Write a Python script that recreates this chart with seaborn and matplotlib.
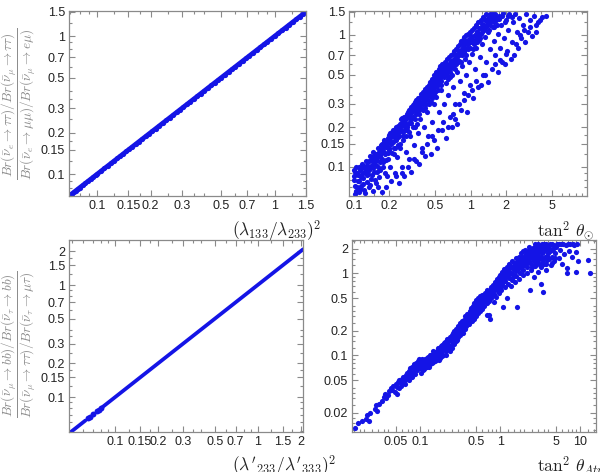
import matplotlib
matplotlib.use('Agg')
import matplotlib.pyplot as plt
import seaborn as sns
from matplotlib.ticker import FixedLocator, FixedFormatter, LogLocator, NullFormatter

# ---------------- data ----------------
# top-left: ratio of branching ratios vs (lambda133/lambda233)^2 (lies on y = x)
tl_x = [0.070, 0.072, 0.074, 0.076, 0.078, 0.080, 0.083, 0.086, 0.089, 0.092, 0.095, 0.098,
        0.100, 0.105, 0.110, 0.115, 0.120, 0.125, 0.130, 0.135, 0.140, 0.146, 0.152, 0.158,
        0.165, 0.172, 0.180, 0.188, 0.196, 0.205, 0.214, 0.224, 0.234, 0.245, 0.256, 0.268,
        0.280, 0.293, 0.306, 0.320, 0.335, 0.350, 0.366, 0.383, 0.400, 0.420, 0.440, 0.460,
        0.480, 0.500, 0.525, 0.550, 0.575, 0.600, 0.630, 0.660, 0.690, 0.720, 0.755, 0.790,
        0.830, 0.870, 0.910, 0.950, 1.000, 1.050, 1.100, 1.150, 1.200, 1.260, 1.320, 1.380,
        1.440, 1.500]
tl_y = list(tl_x)

# bottom-left: three pieces of the y = x line (dense start, a few isolated dots, dense rest)
bl_low_x = [0.048, 0.050, 0.052, 0.054, 0.056, 0.058, 0.060, 0.062]
bl_dots_x = [0.0650, 0.0668, 0.0705, 0.0748, 0.0768, 0.0798]
bl_main_x = [0.081, 0.084, 0.087, 0.090, 0.094, 0.098, 0.102, 0.107, 0.112, 0.117, 0.122,
             0.128, 0.134, 0.140, 0.147, 0.154, 0.161, 0.169, 0.177, 0.185, 0.194, 0.203,
             0.213, 0.223, 0.234, 0.245, 0.257, 0.269, 0.282, 0.295, 0.309, 0.324, 0.340,
             0.356, 0.373, 0.391, 0.410, 0.430, 0.450, 0.472, 0.495, 0.518, 0.543, 0.569,
             0.596, 0.625, 0.655, 0.686, 0.719, 0.753, 0.789, 0.827, 0.867, 0.908, 0.952,
             0.997, 1.045, 1.095, 1.147, 1.202, 1.260, 1.320, 1.383, 1.450, 1.519, 1.592,
             1.668, 1.748, 1.832, 1.920, 2.000, 2.080]
bl_low_y = list(bl_low_x)
bl_dots_y = list(bl_dots_x)
bl_main_y = list(bl_main_x)

# top-right: vs tan^2 theta_sol
tr_x = [0.10, 0.10, 0.102, 0.104, 0.106, 0.108, 0.11, 0.112, 0.115, 0.117, 0.12, 0.122, 0.125, 0.127, 0.13,
        0.132, 0.134, 0.137, 0.14, 0.142, 0.145, 0.147, 0.15, 0.153, 0.156, 0.16, 0.162, 0.165, 0.168, 0.172, 0.175, 0.178,
        0.18, 0.183, 0.186, 0.19, 0.193, 0.196, 0.2, 0.203, 0.207, 0.21, 0.214, 0.218, 0.222, 0.226, 0.23, 0.235, 0.24, 0.245, 0.248,
        0.25, 0.255, 0.26, 0.265, 0.27, 0.275, 0.28, 0.285, 0.29, 0.295, 0.3, 0.305, 0.31, 0.315, 0.32, 0.325, 0.33, 0.335, 0.34, 0.345,
        0.35, 0.355, 0.36, 0.365, 0.37, 0.375, 0.38, 0.39, 0.395, 0.4, 0.41, 0.415, 0.42, 0.43, 0.435, 0.44, 0.45, 0.455, 0.46, 0.47, 0.48, 0.485, 0.49, 0.495,
        0.5, 0.51, 0.52, 0.53, 0.54, 0.55, 0.56, 0.57, 0.58, 0.59, 0.6, 0.61, 0.62, 0.63, 0.64, 0.65, 0.66, 0.67, 0.68, 0.69,
        0.7, 0.71, 0.72, 0.73, 0.75, 0.76, 0.77, 0.78, 0.8, 0.81, 0.82, 0.84, 0.85, 0.86, 0.88, 0.89, 0.9, 0.92, 0.93, 0.95, 0.96, 0.97, 0.99,
        1.0, 1.02, 1.04, 1.06, 1.08, 1.1, 1.12, 1.14, 1.16, 1.18, 1.2, 1.22, 1.25, 1.27, 1.3, 1.32, 1.35, 1.37, 1.4, 1.42, 1.45, 1.47, 1.5,
        1.52, 1.55, 1.58, 1.6, 1.63, 1.66, 1.7, 1.73, 1.76, 1.8, 1.83, 1.87, 1.9, 1.94, 1.98, 2.0, 2.05, 2.1, 2.15, 2.2,
        2.25, 2.3, 2.35, 2.4, 2.5, 2.55, 2.6, 2.7, 2.8, 2.9, 3.0, 3.1, 3.2, 3.35, 3.5, 3.65, 3.8, 4.1, 4.4,
        0.105, 0.113, 0.118, 0.124, 0.128, 0.135, 0.138, 0.143, 0.148, 0.155, 0.158, 0.163, 0.17, 0.176, 0.182, 0.188, 0.195, 0.2,
        0.205, 0.212, 0.22, 0.228, 0.233, 0.238, 0.243, 0.25, 0.258, 0.262, 0.268, 0.278, 0.283, 0.288, 0.298, 0.302, 0.308, 0.318,
        0.322, 0.328, 0.338, 0.348, 0.358, 0.362, 0.372, 0.385, 0.392, 0.405, 0.412, 0.425, 0.438, 0.445, 0.46, 0.475, 0.49, 0.505,
        0.515, 0.525, 0.545, 0.555, 0.575, 0.595, 0.615, 0.635, 0.655, 0.675, 0.695, 0.715, 0.735, 0.755, 0.775, 0.795, 0.83, 0.87,
        0.91, 0.94, 0.98, 1.01, 1.05, 1.09, 1.13, 1.17, 1.21, 1.26, 1.31, 1.36, 1.41, 1.46, 1.53, 1.57, 1.62, 1.68, 1.75, 1.85, 1.95,
        2.08, 2.28, 0.102, 0.11]
tr_y = [0.095, 0.085, 0.072, 0.065, 0.09, 0.078, 0.1, 0.068, 0.083, 0.105, 0.074, 0.092, 0.063, 0.11, 0.086,
        0.098, 0.07, 0.12, 0.081, 0.104, 0.066, 0.13, 0.092, 0.113, 0.075, 0.138, 0.1, 0.083, 0.12, 0.147, 0.064, 0.108,
        0.13, 0.16, 0.09, 0.07, 0.143, 0.115, 0.175, 0.1, 0.155, 0.078, 0.128, 0.19, 0.14, 0.09, 0.2, 0.118, 0.168, 0.075, 0.21,
        0.15, 0.23, 0.1, 0.185, 0.085, 0.24, 0.13, 0.2, 0.26, 0.115, 0.22, 0.17, 0.092, 0.28, 0.24, 0.145, 0.3, 0.2, 0.11, 0.26,
        0.32, 0.18, 0.105, 0.28, 0.23, 0.34, 0.14, 0.3, 0.2, 0.37, 0.12, 0.33, 0.26, 0.4, 0.17, 0.3, 0.42, 0.125, 0.36, 0.22, 0.45, 0.3, 0.16, 0.4,
        0.48, 0.34, 0.14, 0.44, 0.26, 0.52, 0.38, 0.19, 0.5, 0.3, 0.57, 0.43, 0.165, 0.54, 0.35, 0.6, 0.24, 0.48, 0.63, 0.2,
        0.56, 0.4, 0.66, 0.3, 0.7, 0.52, 0.21, 0.62, 0.76, 0.45, 0.27, 0.7, 0.58, 0.8, 0.36, 0.66, 0.85, 0.5, 0.26, 0.78, 0.9, 0.62, 0.42,
        0.95, 0.72, 0.33, 0.86, 1.0, 0.55, 0.8, 1.06, 0.4, 0.92, 0.68, 1.12, 0.85, 0.5, 1.2, 0.97, 0.62, 1.28, 0.44, 1.05, 1.35, 0.78, 1.42,
        0.55, 1.15, 0.9, 1.45, 0.7, 1.3, 0.52, 1.02, 1.4, 0.8, 1.2, 0.62, 1.47, 0.95, 0.6, 1.3, 0.75, 1.1, 1.44, 0.66,
        0.88, 1.25, 0.7, 1.45, 1.05, 0.8, 1.35, 0.95, 1.2, 0.88, 1.45, 1.05, 1.3, 0.98, 1.4, 1.05, 1.25, 1.38, 1.4,
        0.1, 0.095, 0.088, 0.1, 0.095, 0.11, 0.1, 0.118, 0.108, 0.125, 0.112, 0.13, 0.135, 0.15, 0.145, 0.155, 0.165, 0.14,
        0.18, 0.17, 0.175, 0.16, 0.19, 0.205, 0.185, 0.2, 0.215, 0.17, 0.22, 0.21, 0.25, 0.19, 0.24, 0.27, 0.23, 0.2,
        0.27, 0.29, 0.25, 0.3, 0.27, 0.33, 0.3, 0.35, 0.27, 0.32, 0.38, 0.34, 0.36, 0.39, 0.31, 0.41, 0.35, 0.45,
        0.41, 0.5, 0.47, 0.42, 0.55, 0.48, 0.52, 0.46, 0.55, 0.58, 0.5, 0.62, 0.55, 0.6, 0.72, 0.64, 0.62, 0.74,
        0.7, 0.86, 0.8, 0.88, 0.78, 0.92, 0.88, 1.0, 0.95, 1.05, 1.1, 1.15, 1.22, 1.18, 1.3, 1.25, 1.38, 1.2, 1.32, 1.4, 1.25,
        1.4, 1.38, 0.062, 0.064]
tr_x_more = [0.101, 0.103, 0.107, 0.109, 0.111, 0.114, 0.116, 0.119, 0.121, 0.123, 0.126, 0.129, 0.131, 0.133, 0.136,
             0.139, 0.141, 0.144, 0.146, 0.149, 0.151, 0.154, 0.157, 0.159, 0.161, 0.164, 0.167, 0.169, 0.171, 0.174,
             0.177, 0.179, 0.181, 0.184, 0.187, 0.189, 0.192, 0.194, 0.197, 0.199,
             0.202, 0.206, 0.209, 0.211, 0.216, 0.219, 0.221, 0.224, 0.227, 0.231, 0.236, 0.239, 0.242, 0.246, 0.249,
             0.252, 0.256, 0.261, 0.264, 0.267, 0.271, 0.274, 0.279, 0.282, 0.287, 0.291, 0.294, 0.297, 0.301, 0.306,
             0.311, 0.314, 0.319, 0.324, 0.327, 0.331, 0.336, 0.341, 0.344, 0.347,
             0.352, 0.357, 0.363, 0.368, 0.373, 0.378, 0.383, 0.388, 0.394, 0.398, 0.403, 0.408, 0.414, 0.418, 0.423,
             0.428, 0.433, 0.441, 0.448, 0.452, 0.458, 0.464, 0.468, 0.473, 0.478, 0.483, 0.488, 0.493, 0.498, 0.508,
             0.512, 0.518, 0.523, 0.532, 0.538, 0.543, 0.552, 0.558, 0.566, 0.572, 0.583, 0.588,
             0.603, 0.608, 0.618, 0.625, 0.632, 0.645, 0.652, 0.662, 0.672, 0.685, 0.693, 0.705, 0.712, 0.725, 0.742,
             0.752, 0.765, 0.783, 0.79, 0.805, 0.815, 0.825, 0.838, 0.855, 0.865, 0.878, 0.895, 0.905, 0.918, 0.935,
             0.945, 0.965, 0.985,
             1.015, 1.03, 1.045, 1.065, 1.085, 1.105, 1.125, 1.145, 1.165, 1.19, 1.215, 1.235, 1.255, 1.285, 1.305,
             1.33, 1.355, 1.38, 1.405, 1.43, 1.455, 1.48, 1.51, 1.545, 1.575, 1.6,
             0.23, 0.26, 0.29, 0.33, 0.38, 0.42, 0.47, 0.53, 0.58, 0.64, 0.7, 0.74, 0.8, 0.87, 0.95, 1.03, 1.12, 1.22,
             1.33, 1.6, 1.78, 2.02, 2.45, 2.65, 2.85, 3.25, 3.6, 3.9]
tr_y_more = [0.08, 0.092, 0.07, 0.086, 0.078, 0.097, 0.072, 0.099, 0.082, 0.067, 0.09, 0.103, 0.077, 0.088, 0.095,
             0.073, 0.112, 0.087, 0.098, 0.121, 0.08, 0.104, 0.118, 0.092, 0.07, 0.122, 0.108, 0.095, 0.128, 0.115,
             0.138, 0.1, 0.155, 0.125, 0.112, 0.142, 0.085, 0.152, 0.128, 0.16,
             0.135, 0.165, 0.148, 0.185, 0.155, 0.125, 0.188, 0.165, 0.138, 0.178, 0.195, 0.145, 0.2, 0.17, 0.14,
             0.21, 0.19, 0.235, 0.16, 0.205, 0.24, 0.19, 0.23, 0.172, 0.245, 0.21, 0.27, 0.185, 0.25, 0.285,
             0.215, 0.26, 0.295, 0.235, 0.27, 0.31, 0.23, 0.285, 0.32, 0.21,
             0.3, 0.335, 0.25, 0.31, 0.355, 0.28, 0.33, 0.37, 0.31, 0.35, 0.28, 0.39, 0.35, 0.3, 0.4,
             0.37, 0.32, 0.42, 0.35, 0.44, 0.39, 0.33, 0.46, 0.38, 0.43, 0.5, 0.42, 0.37, 0.46, 0.52,
             0.43, 0.48, 0.38, 0.55, 0.47, 0.52, 0.58, 0.45, 0.53, 0.6, 0.5, 0.58,
             0.62, 0.53, 0.6, 0.5, 0.66, 0.57, 0.68, 0.6, 0.52, 0.7, 0.62, 0.72, 0.58, 0.75, 0.66,
             0.78, 0.68, 0.82, 0.7, 0.86, 0.74, 0.9, 0.78, 0.92, 0.84, 0.96, 0.78, 1.0, 0.9, 0.8,
             1.02, 0.94, 1.05,
             0.98, 1.1, 0.9, 1.12, 0.98, 1.2, 1.05, 0.95, 1.25, 1.12, 1.3, 1.02, 1.22, 1.38, 1.12,
             1.3, 1.45, 1.2, 1.35, 1.1, 1.45, 1.28, 1.38, 1.47, 1.15, 1.3,
             0.085, 0.09, 0.1, 0.115, 0.13, 0.15, 0.17, 0.19, 0.22, 0.2, 0.25, 0.23, 0.3, 0.32, 0.35, 0.38, 0.45, 0.42,
             0.5, 0.6, 0.65, 0.72, 0.85, 1.0, 1.1, 1.15, 1.2, 1.3]

# bottom-right: vs tan^2 theta_atm
br_x = [0.0155, 0.017, 0.019, 0.021, 0.022, 0.024, 0.023, 0.027, 0.028, 0.029, 0.031, 0.033, 0.035, 0.037, 0.036,
        0.04, 0.041, 0.043, 0.045, 0.046, 0.048, 0.05, 0.052, 0.053, 0.055, 0.057, 0.06, 0.062, 0.064, 0.066, 0.068,
        0.07, 0.073, 0.075, 0.078, 0.08, 0.083, 0.085, 0.088, 0.09, 0.093, 0.096, 0.099,
        0.1, 0.104, 0.107, 0.11, 0.113, 0.116, 0.12, 0.123, 0.127, 0.13, 0.134, 0.138, 0.142, 0.146, 0.15, 0.155,
        0.16, 0.165, 0.17, 0.175, 0.18, 0.185, 0.19, 0.195, 0.2,
        0.205, 0.21, 0.215, 0.22, 0.225, 0.23, 0.235, 0.24, 0.245, 0.25, 0.255, 0.26, 0.265, 0.27, 0.275, 0.28, 0.285,
        0.29, 0.295, 0.3, 0.31, 0.315, 0.32, 0.33, 0.335, 0.34, 0.345,
        0.35, 0.36, 0.37, 0.375, 0.38, 0.39, 0.4, 0.41, 0.42, 0.43, 0.44, 0.45, 0.46, 0.47, 0.48, 0.49, 0.5, 0.51, 0.52,
        0.53, 0.54, 0.55, 0.56, 0.57, 0.58, 0.59, 0.6, 0.68, 0.75,
        0.61, 0.63, 0.65, 0.66, 0.68, 0.7, 0.71, 0.72, 0.73, 0.75, 0.76, 0.78, 0.8, 0.82, 0.83, 0.85, 0.87, 0.88, 0.9,
        0.92, 0.94, 0.95, 0.97, 0.99,
        1.0, 1.02, 1.04, 1.06, 1.08, 1.1, 1.12, 1.14, 1.16, 1.18, 1.2, 1.22, 1.25, 1.28, 1.3, 1.33, 1.36, 1.4, 1.43,
        1.46, 1.5, 1.53, 1.56, 1.6, 1.62, 1.64, 1.68, 1.72, 1.76, 1.8, 1.84, 1.88, 1.92, 1.96,
        2.0, 2.05, 2.1, 2.15, 2.2, 2.25, 2.3, 2.35, 2.37, 2.4, 2.45, 2.5, 2.55, 2.6, 2.65, 2.7, 2.75, 2.8, 2.85, 2.9,
        2.95, 3.0, 3.05, 3.1, 3.15, 3.2, 3.25, 3.3, 3.35, 3.4, 3.45, 3.5, 3.55, 3.6, 3.65, 3.7, 3.8, 3.9, 4.0,
        4.1, 4.2, 4.3, 4.4, 4.5, 4.6, 4.75, 4.9, 5.0, 5.2, 5.4, 5.6, 5.8, 6.0, 6.3, 6.6, 6.8, 6.9, 7.2, 7.5, 8.0, 8.5,
        9.0, 9.0, 9.3, 12.7, 13.3,
        2.7, 3.0, 3.3, 3.8, 4.4, 5.5, 6.2, 7.0, 8.2, 9.2]
br_y = [0.013, 0.015, 0.016, 0.017, 0.019, 0.02, 0.016, 0.022, 0.025, 0.021, 0.026, 0.028, 0.031, 0.03, 0.034,
        0.033, 0.037, 0.04, 0.038, 0.043, 0.036, 0.045, 0.041, 0.048, 0.05, 0.046, 0.052, 0.055, 0.05, 0.058, 0.062,
        0.056, 0.065, 0.07, 0.062, 0.072, 0.068, 0.078, 0.08, 0.073, 0.085, 0.09, 0.082,
        0.07, 0.062, 0.085, 0.075, 0.068, 0.09, 0.08, 0.072, 0.095, 0.085, 0.078, 0.1, 0.09, 0.083, 0.105, 0.095,
        0.088, 0.115, 0.1, 0.093, 0.12, 0.108, 0.135, 0.1, 0.125,
        0.145, 0.115, 0.135, 0.16, 0.12, 0.15, 0.17, 0.13, 0.155, 0.18, 0.14, 0.165, 0.2, 0.15, 0.175, 0.21, 0.16,
        0.19, 0.22, 0.17, 0.2, 0.235, 0.18, 0.22, 0.25, 0.19, 0.23,
        0.27, 0.21, 0.25, 0.29, 0.23, 0.27, 0.31, 0.24, 0.29, 0.34, 0.26, 0.31, 0.36, 0.28, 0.33, 0.39, 0.3, 0.36, 0.42,
        0.33, 0.38, 0.45, 0.35, 0.41, 0.48, 0.37, 0.44, 0.31, 0.28,
        0.52, 0.4, 0.47, 0.56, 0.43, 0.5, 0.6, 0.31, 0.46, 0.55, 0.65, 0.5, 0.6, 0.7, 0.45, 0.56, 0.66, 0.76, 0.52,
        0.62, 0.72, 0.83, 0.58, 0.68,
        0.8, 0.92, 0.62, 0.74, 0.39, 0.86, 1.0, 0.68, 0.8, 0.94, 1.08, 0.5, 0.75, 0.88, 1.02, 1.18, 0.7, 0.84, 0.98,
        1.12, 1.28, 0.78, 0.92, 1.06, 0.39, 1.22, 1.4, 0.85, 1.0, 1.15, 1.32, 1.52, 0.95, 1.1,
        1.25, 1.45, 1.7, 1.0, 1.18, 1.38, 1.6, 1.9, 0.63, 1.1, 1.3, 1.52, 1.78, 2.05, 0.9, 1.22, 1.45, 1.7, 2.0, 2.2,
        1.05, 1.35, 1.6, 1.85, 2.15, 0.75, 1.2, 1.5, 1.75, 2.05, 0.6, 2.25, 1.3, 1.6, 1.9, 2.2, 1.1, 1.45, 1.75,
        2.05, 2.25, 1.25, 1.6, 1.9, 2.2, 1.4, 1.75, 2.1, 2.3, 1.55, 1.95, 2.25, 1.3, 1.7, 2.2, 1.15, 1.0, 1.85, 2.25, 1.6, 2.2,
        1.05, 1.8, 1.4, 1.45, 1.02,
        2.25, 2.28, 2.25, 2.3, 2.28, 2.26, 2.3, 2.25, 2.28, 2.27]
br_x_more = [0.051, 0.054, 0.058, 0.061, 0.065, 0.069, 0.072, 0.076, 0.079, 0.082, 0.086, 0.091, 0.094, 0.097,
             0.102, 0.105, 0.109, 0.112, 0.118, 0.121, 0.125, 0.129, 0.132, 0.136, 0.14, 0.144, 0.148, 0.153, 0.158,
             0.162, 0.168, 0.172, 0.178, 0.183, 0.188, 0.193, 0.198, 0.208, 0.213, 0.218, 0.228, 0.233, 0.238, 0.248,
             0.253, 0.258, 0.268, 0.273, 0.278, 0.288, 0.293, 0.298,
             0.305, 0.318, 0.325, 0.338, 0.348, 0.355, 0.365, 0.378, 0.385, 0.395, 0.405, 0.415, 0.425, 0.435, 0.448,
             0.455, 0.465, 0.475, 0.485, 0.495, 0.505, 0.515, 0.525, 0.535, 0.545, 0.565, 0.575, 0.585, 0.595, 0.62,
             0.64, 0.67, 0.69,
             0.74, 0.77, 0.79, 0.81, 0.84, 0.86, 0.89, 0.91, 0.93, 0.96, 0.98, 1.01, 1.03, 1.05, 1.07, 1.09, 1.11,
             1.13, 1.15, 1.17, 1.21, 1.24, 1.27, 1.31, 1.35, 1.38, 1.42, 1.45, 1.48, 1.52, 1.58, 1.63, 1.66, 1.7,
             1.74, 1.78, 1.82, 1.86, 1.9, 1.94, 1.98,
             2.02, 2.07, 2.12, 2.18, 2.22, 2.28, 2.33, 2.38, 2.42, 2.48, 2.52, 2.58, 2.62, 2.68, 2.72, 2.78, 2.82,
             2.88, 2.92, 2.98, 3.02, 3.08, 3.12, 3.18, 3.22, 3.28, 3.32, 3.42, 3.52, 3.62, 3.72, 3.85, 3.95, 4.05,
             4.25, 4.45, 4.65, 4.85]
br_y_more = [0.034, 0.04, 0.042, 0.047, 0.045, 0.054, 0.05, 0.058, 0.055, 0.063, 0.06, 0.066, 0.07, 0.075,
             0.078, 0.09, 0.066, 0.083, 0.074, 0.092, 0.082, 0.072, 0.1, 0.088, 0.08, 0.112, 0.095, 0.085, 0.11,
             0.1, 0.125, 0.088, 0.11, 0.13, 0.098, 0.118, 0.14, 0.128, 0.1, 0.145, 0.132, 0.158, 0.115, 0.165,
             0.125, 0.19, 0.138, 0.185, 0.15, 0.2, 0.155, 0.23,
             0.19, 0.25, 0.2, 0.265, 0.21, 0.25, 0.3, 0.25, 0.32, 0.24, 0.29, 0.35, 0.27, 0.38, 0.3,
             0.4, 0.32, 0.44, 0.36, 0.47, 0.34, 0.45, 0.38, 0.5, 0.42, 0.53, 0.38, 0.45, 0.55, 0.48,
             0.58, 0.5, 0.62,
             0.58, 0.68, 0.55, 0.72, 0.62, 0.78, 0.64, 0.85, 0.7, 0.9, 0.75, 0.95, 0.7, 0.88, 1.05, 0.78, 0.95,
             1.12, 0.88, 1.05, 1.2, 0.95, 1.1, 1.3, 1.0, 1.2, 1.42, 0.9, 1.15, 1.35, 1.55, 1.1, 1.3, 1.6,
             1.2, 1.45, 1.75, 1.25, 1.6, 1.85, 1.4,
             1.65, 1.95, 1.3, 1.55, 1.85, 2.1, 1.4, 1.7, 2.0, 1.2, 1.65, 1.95, 1.4, 1.8, 2.1, 1.3, 1.6,
             1.9, 1.4, 1.75, 2.0, 1.5, 1.25, 1.9, 1.6, 2.1, 1.35, 1.8, 1.5, 2.0, 1.3, 1.65, 2.05, 1.5,
             1.85, 1.35, 2.0, 1.55]

# tick values / labels
tl_xticks = [0.1, 0.15, 0.2, 0.3, 0.5, 0.7, 1, 1.5]
tl_xlabels = ['0.1', '0.15', '0.2', '0.3', '0.5', '0.7', '1', '1.5']
tl_yticks = [0.1, 0.15, 0.2, 0.3, 0.5, 0.7, 1, 1.5]
tl_ylabels = ['0.1', '0.15', '0.2', '0.3', '0.5', '0.7', '1', '1.5']
tr_xticks = [0.1, 0.2, 0.5, 1, 2, 5, 10]
tr_xlabels = ['0.1', '0.2', '0.5', '1', '2', '5', '10']
tr_yticks = tl_yticks
tr_ylabels = tl_ylabels
bl_xticks = [0.1, 0.15, 0.2, 0.3, 0.5, 0.7, 1, 1.5, 2]
bl_xlabels = ['0.1', '0.15', '0.2', '0.3', '0.5', '0.7', '1', '1.5', '2']
bl_yticks = bl_xticks
bl_ylabels = bl_xlabels
br_xticks = [0.05, 0.1, 0.5, 1, 5, 10]
br_xlabels = ['0.05', '0.1', '0.5', '1', '5', '10']
br_yticks = [0.02, 0.05, 0.1, 0.2, 0.5, 1, 2]
br_ylabels = ['0.02', '0.05', '0.1', '0.2', '0.5', '1', '2']

ylabel_top = (r'$\dfrac{Br(\bar{\nu}_e\rightarrow\tau\tau)/Br(\bar{\nu}_\mu\rightarrow\tau\tau)}'
              r'{Br(\bar{\nu}_e\rightarrow\mu\mu)/Br(\bar{\nu}_\mu\rightarrow e\mu)}$')
ylabel_bot = (r'$\dfrac{Br(\bar{\nu}_\mu\rightarrow bb)/Br(\bar{\nu}_\tau\rightarrow bb)}'
              r'{Br(\bar{\nu}_\mu\rightarrow\tau\tau)/Br(\bar{\nu}_\tau\rightarrow\mu\tau)}$')
xlabel_tl = r'$(\lambda_{133}/\lambda_{233})^2$'
xlabel_tr = r'$\tan^2\,\theta_{\odot}$'
xlabel_bl = r"$(\lambda'_{233}/\lambda'_{333})^2$"
xlabel_br = r'$\tan^2\,\theta_{Atm}$'

# ---------------- style ----------------
sns.set_style('white')
plt.rcParams['font.family'] = ['Liberation Sans', 'DejaVu Sans']
plt.rcParams['mathtext.fontset'] = 'cm'

BLUE = '#1414e6'
FRAME = '#8a8a8a'
TXT = '#222222'
YLAB = '#8c8c8c'

W, H = 600, 472
fig = plt.figure(figsize=(6, 4.72), dpi=100)


def add_ax(x0, y0, x1, y1):
    return fig.add_axes([x0 / W, 1 - y1 / H, (x1 - x0) / W, (y1 - y0) / H])


ax_tl = add_ax(69, 11, 306, 196)
ax_tr = add_ax(349, 11, 587, 196)
ax_bl = add_ax(69, 240, 303, 432)
ax_br = add_ax(352, 240, 596, 432)

DOT = 14

# top-left line
sns.lineplot(x=tl_x, y=tl_y, ax=ax_tl, color=BLUE, lw=3.4, sort=False, estimator=None)
sns.scatterplot(x=tl_x, y=tl_y, ax=ax_tl, color=BLUE, s=DOT, linewidth=0)

# bottom-left line pieces
sns.lineplot(x=bl_low_x, y=bl_low_y, ax=ax_bl, color=BLUE, lw=2.7, sort=False, estimator=None)
sns.lineplot(x=bl_main_x, y=bl_main_y, ax=ax_bl, color=BLUE, lw=2.7, sort=False, estimator=None)
sns.scatterplot(x=bl_dots_x, y=bl_dots_y, ax=ax_bl, color=BLUE, s=DOT + 4, linewidth=0)

# scatters
sns.scatterplot(x=tr_x + tr_x_more, y=tr_y + tr_y_more, ax=ax_tr, color=BLUE, s=DOT, linewidth=0)
sns.scatterplot(x=br_x + br_x_more, y=br_y + br_y_more, ax=ax_br, color=BLUE, s=DOT, linewidth=0)

limits = {
    'tl': ((0.0695, 1.5), (0.0695, 1.52)),
    'tr': ((0.091, 9.9), (0.06, 1.52)),
    'bl': ((0.0476, 2.08), (0.049, 2.52)),
    'br': ((0.0141, 15.8), (0.0117, 2.55)),
}
tickinfo = {
    'tl': (tl_xticks, tl_xlabels, tl_yticks, tl_ylabels),
    'tr': (tr_xticks, tr_xlabels, tr_yticks, tr_ylabels),
    'bl': (bl_xticks, bl_xlabels, bl_yticks, bl_ylabels),
    'br': (br_xticks, br_xlabels, br_yticks, br_ylabels),
}
axes = {'tl': ax_tl, 'tr': ax_tr, 'bl': ax_bl, 'br': ax_br}
minor_subs = [1.0, 1.25, 1.5, 1.75, 2, 2.5, 3, 3.5, 4, 5, 6, 7, 8, 9]

for key, ax in axes.items():
    ax.set_xscale('log')
    ax.set_yscale('log')
    (x0, x1), (y0, y1) = limits[key]
    ax.set_xlim(x0, x1)
    ax.set_ylim(y0, y1)
    xt, xl, yt, yl = tickinfo[key]
    ax.xaxis.set_major_locator(FixedLocator(xt))
    ax.xaxis.set_major_formatter(FixedFormatter(xl))
    ax.yaxis.set_major_locator(FixedLocator(yt))
    ax.yaxis.set_major_formatter(FixedFormatter(yl))
    ax.xaxis.set_minor_locator(LogLocator(base=10, subs=minor_subs, numticks=50))
    ax.yaxis.set_minor_locator(LogLocator(base=10, subs=minor_subs, numticks=50))
    ax.xaxis.set_minor_formatter(NullFormatter())
    ax.yaxis.set_minor_formatter(NullFormatter())
    ax.tick_params(which='both', direction='in', top=True, right=True, bottom=True, left=True,
                   color=FRAME, width=0.8, labelcolor=TXT, labelsize=9, pad=3)
    ax.tick_params(which='major', length=4.5)
    ax.tick_params(which='minor', length=2.2)
    for sp in ax.spines.values():
        sp.set_color(FRAME)
        sp.set_linewidth(0.9)
    ax.set_xlabel('')
    ax.set_ylabel('')
    ax.grid(False)

fig.text(19 / W, 1 - 103.5 / H, ylabel_top, rotation=90, ha='center', va='center', color=YLAB, fontsize=9.5)
fig.text(19 / W, 1 - 344 / H, ylabel_bot, rotation=90, ha='center', va='center', color=YLAB, fontsize=9.5)

fig.text(232 / W, 1 - 231 / H, xlabel_tl, ha='left', va='center', color=TXT, fontsize=12.5)
fig.text(537 / W, 1 - 231 / H, xlabel_tr, ha='left', va='center', color=TXT, fontsize=12.5)
fig.text(232 / W, 1 - 466 / H, xlabel_bl, ha='left', va='center', color=TXT, fontsize=12.5)
fig.text(537 / W, 1 - 466 / H, xlabel_br, ha='left', va='center', color=TXT, fontsize=12.5)

fig.savefig('out.png', dpi=100)
